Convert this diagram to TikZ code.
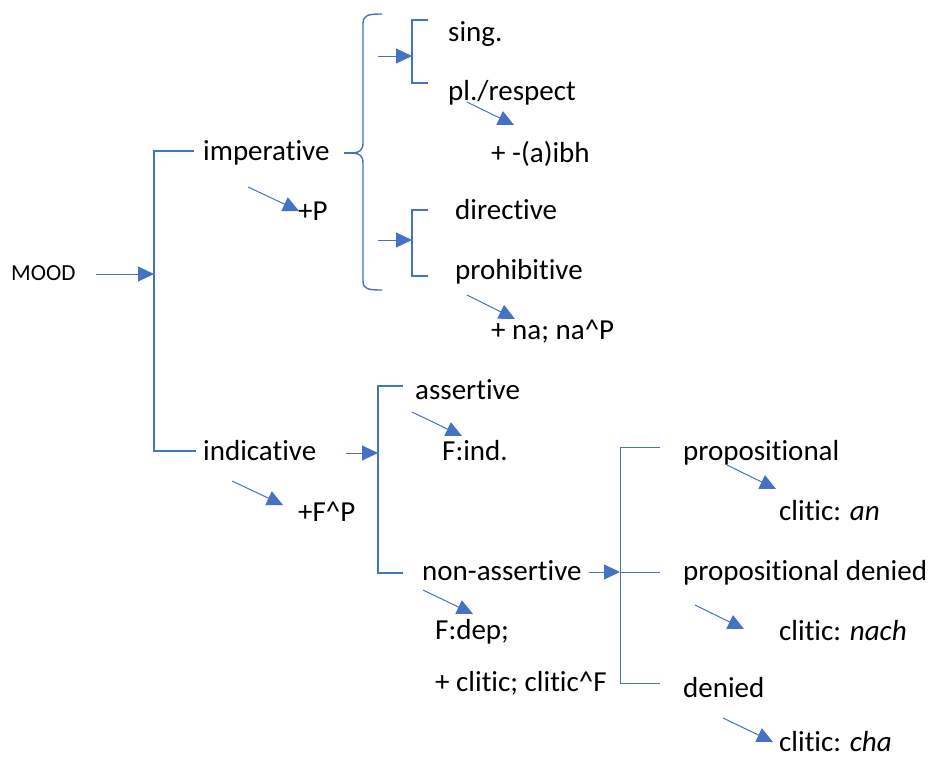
\documentclass[tikz,border=0pt]{standalone}
\usepackage{fontspec}
\setmainfont{Carlito}[RawFeature={-liga;-clig;-calt;-dlig}]
\usetikzlibrary{arrows.meta}
\definecolor{lineblue}{HTML}{4472C4}
\tikzset{
  lbl/.style={anchor=mid west, inner sep=0pt, yshift=-5pt, font=\fontsize{29}{34}\selectfont},
  smalllbl/.style={anchor=mid west, inner sep=0pt, yshift=-4pt, font=\fontsize{23}{28}\selectfont},
  brk/.style={draw=lineblue, line width=1.4pt},
  thin/.style={draw=lineblue, line width=1pt},
  arr/.style={draw=lineblue, line width=1pt, -{Triangle[length=16pt, width=15pt]}, color=lineblue},
}
\begin{document}
\begin{tikzpicture}[x=1pt, y=-1pt]
\useasboundingbox (0,0) rectangle (931,758);

% labels
\node[smalllbl] (mood) at (11,274) {MOOD};
\node[lbl] (imp) at (203,153) {imperative};
\node[lbl] (pp) at (298,213) {+P};
\node[lbl] (ind) at (203,453) {indicative};
\node[lbl] (fp) at (298,514) {+F\^{}P};
\node[lbl] (sing) at (448,34) {sing.};
\node[lbl] (pl) at (448,93) {pl./respect};
\node[lbl] (aibh) at (491,155) {+ -(a)ibh};
\node[lbl] (dir) at (455,212) {directive};
\node[lbl] (proh) at (455,272) {prohibitive};
\node[lbl] (na) at (491,332) {+ na; na\^{}P};
\node[lbl] (ass) at (415,392) {assertive};
\node[lbl] (find) at (442,453) {F:ind.};
\node[lbl] (nass) at (422,573) {non-assertive};
\node[lbl] (fdep) at (435,632) {F:dep;};
\node[lbl] (clf) at (435,684) {+ clitic; clitic\^{}F};
\node[lbl] (prop) at (683,453) {propositional};
\node[lbl] (can) at (779,513) {clitic: \emph{an}};
\node[lbl] (propd) at (683,573) {propositional denied};
\node[lbl] (cnach) at (779,633) {clitic: \emph{nach}};
\node[lbl] (den) at (683,690) {denied};
\node[lbl] (ccha) at (779,744) {clitic: \emph{cha}};

% coordinates
\coordinate (moodR) at (96,274);
\coordinate (b1) at (154,274);
\coordinate (b1t) at (154,151);
\coordinate (b1b) at (154,451);
\coordinate (b1tr) at (194,151);
\coordinate (b1br) at (196,451);

% MOOD -> main bracket
\draw[arr] (moodR) -- (b1);
\draw[brk] (b1tr) -- (b1t) -- (b1b) -- (b1br);

% imperative -> curly brace
\coordinate (impR) at (344,153);
\draw[brk] (impR) -- (358,153);
\draw[brk] (382,14) .. controls (368,14) and (363,15) .. (363,24)
  -- (363,143) .. controls (363,150) and (360,153) .. (350,153)
  .. controls (360,153) and (363,156) .. (363,163)
  -- (363,281) .. controls (363,289) and (368,290) .. (382,290);

% +P
\coordinate (pA) at (248,187);
\coordinate (pB) at (299,211);
\draw[arr] (pA) -- (pB);

% sub bracket 1
\coordinate (s1a) at (378,56);
\coordinate (s1b) at (412,56);
\draw[arr] (s1a) -- (s1b);
\draw[brk] (428,20) -- (412,20) -- (412,83) -- (428,83);
\coordinate (plA) at (467,102);
\coordinate (plB) at (514,125);
\draw[arr] (plA) -- (plB);

% sub bracket 2
\coordinate (s2a) at (378,240);
\coordinate (s2b) at (412,240);
\draw[arr] (s2a) -- (s2b);
\draw[brk] (428,210) -- (412,210) -- (412,276) -- (428,276);
\coordinate (prA) at (467,295);
\coordinate (prB) at (515,319);
\draw[arr] (prA) -- (prB);

% indicative
\coordinate (indA) at (346,453);
\coordinate (indB) at (378,453);
\draw[arr] (indA) -- (indB);
\coordinate (fpA) at (232,481);
\coordinate (fpB) at (283,505);
\draw[arr] (fpA) -- (fpB);
\draw[brk] (403,386) -- (378,386) -- (378,573) -- (403,573);
\coordinate (asA) at (412,412);
\coordinate (asB) at (462,436);
\draw[arr] (asA) -- (asB);
\coordinate (naA) at (423,590);
\coordinate (naB) at (473,614);
\draw[arr] (naA) -- (naB);

% non-assertive -> third bracket
\coordinate (nsA) at (589,572);
\coordinate (nsB) at (620,572);
\draw[arr] (nsA) -- (nsB);
\draw[thin] (660,447) -- (620,447) -- (620,683) -- (660,683);
\draw[thin] (620,572) -- (660,572);

\coordinate (c1A) at (727,465);
\coordinate (c1B) at (776,489);
\draw[arr] (c1A) -- (c1B);
\coordinate (c2A) at (695,605);
\coordinate (c2B) at (744,629);
\draw[arr] (c2A) -- (c2B);
\coordinate (c3A) at (723,718);
\coordinate (c3B) at (773,742);
\draw[arr] (c3A) -- (c3B);
\end{tikzpicture}
\end{document}
